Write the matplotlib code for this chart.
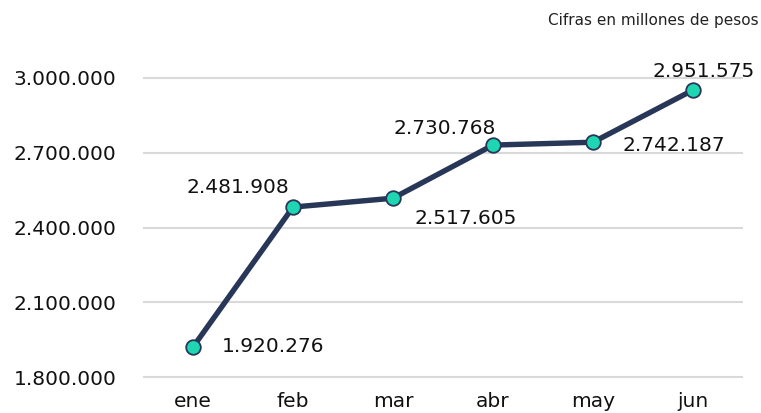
import matplotlib.pyplot as plt
from matplotlib.ticker import FuncFormatter

# Datos
meses = ['ene', 'feb', 'mar', 'abr', 'may', 'jun']
valores = [1920276, 2481908, 2517605, 2730768, 2742187, 2951575]
yticks = [1800000, 2100000, 2400000, 2700000, 3000000]

# Posición de cada etiqueta (offset en px, alineación)
label_pos = [((29, 1), 'left'), ((-4, 20), 'right'), ((22, -20), 'left'),
             ((3, 17), 'right'), ((30, -3), 'left'), ((11, 19), 'center')]


def miles(v, pos=None):
    return f'{int(v):,}'.replace(',', '.')


fig = plt.figure(figsize=(7.61, 4.13), dpi=100)
ax = fig.add_axes([143 / 761, 34 / 413, 600 / 761, 303 / 413])

x = range(len(meses))
ax.plot(x, valores, color='#283758', lw=3.9, marker='o', ms=10.5,
        mfc='#1fd6b2', mec='#283758', mew=1.3, zorder=3, clip_on=False)

for i, v in enumerate(valores):
    off, ha = label_pos[i]
    ax.annotate(miles(v), (i, v), xytext=off, textcoords='offset pixels',
                ha=ha, va='center', fontsize=14.5, color='#111111')

ax.set_xlim(-0.5, len(meses) - 0.5)
ax.set_ylim(1792000, 3008000)
ax.set_yticks(yticks)
ax.yaxis.set_major_formatter(FuncFormatter(miles))
ax.set_xticks(list(x))
ax.set_xticklabels(meses)
ax.tick_params(axis='both', length=0, labelsize=14.5, labelcolor='#111111')
ax.tick_params(axis='y', pad=19)
ax.tick_params(axis='x', pad=9.5)
ax.grid(axis='y', color='#d9d9d9', lw=1.5)
ax.set_axisbelow(True)
for s in ax.spines.values():
    s.set_visible(False)

fig.text(759 / 761, 1 - 21 / 413, 'Cifras en millones de pesos', ha='right',
         va='center', fontsize=11, color='#222222')

fig.savefig('out.png', dpi=100)
